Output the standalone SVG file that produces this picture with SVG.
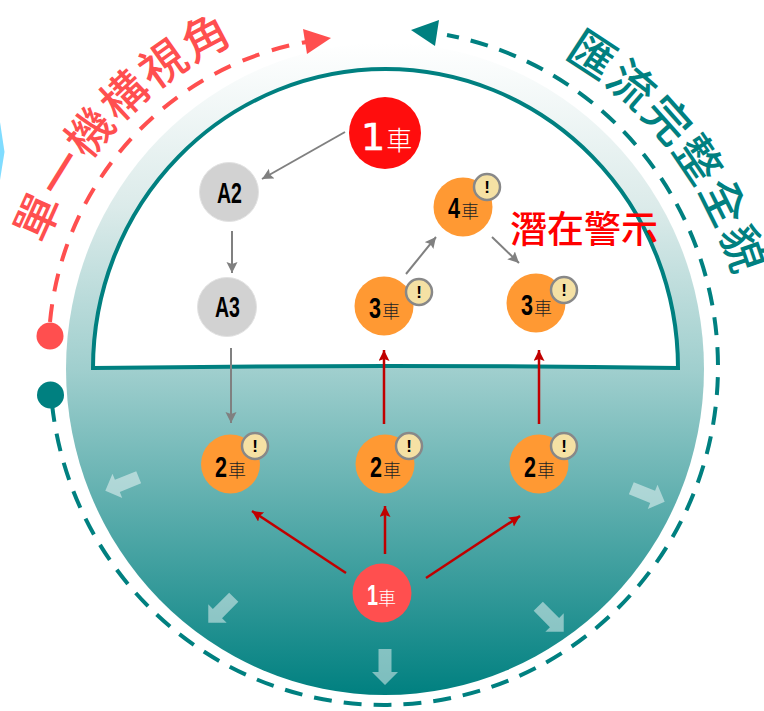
<svg xmlns="http://www.w3.org/2000/svg" width="764" height="711" viewBox="0 0 764 711">
<style>
text{font-family:"Liberation Sans",sans-serif}
.cjk{font-family:"Noto Sans CJK TC","Noto Sans CJK SC",sans-serif}
.title{font-family:"Noto Sans CJK TC",sans-serif;font-size:46px;font-weight:500;letter-spacing:1.800px}
.o{fill:#ff9933}
.g{fill:#d2d2d2;stroke:#e2e2e2;stroke-width:1}
.d{font-size:30px;font-weight:700;fill:#000}
.c{font-family:"Noto Sans CJK TC",sans-serif;font-size:18px;font-weight:300;fill:#222}
.b{fill:#f5e1a4;stroke:#888;stroke-width:2.500}
.x{font-size:17px;font-weight:700;fill:#000;text-anchor:middle}
.gl{stroke:#808080;stroke-width:2;fill:none;marker-end:url(#ga)}
.rl{stroke:#c00000;stroke-width:2.500;fill:none;marker-end:url(#ra)}
.la{fill:#fff;fill-opacity:.48}
</style>
<defs>
<linearGradient id="gr" x1="0" y1="0" x2="0" y2="1">
<stop offset="0" stop-color="#fff"/><stop offset=".25" stop-color="#dcebea"/><stop offset=".5" stop-color="#a0cfce"/><stop offset="1" stop-color="#008080"/>
</linearGradient>
<marker id="ga" markerUnits="userSpaceOnUse" markerWidth="13" markerHeight="13" refX="11" refY="5.500" orient="auto"><path d="M0 0L11 5.500L0 11L2 5.500Z" fill="#808080"/></marker>
<marker id="ra" markerUnits="userSpaceOnUse" markerWidth="13" markerHeight="13" refX="11" refY="5.500" orient="auto"><path d="M0 0L11 5.500L0 11L2 5.500Z" fill="#c00000"/></marker>
<polygon id="blk" points="-6.500,-18 6.500,-18 6.500,5 13,5 0,18 -13,5 -6.500,5"/>
<path id="tl" d="M44 245A362 362 0 0 1 385 10"/>
<path id="tr" d="M563 57A362 362 0 0 1 747 372"/>
</defs>

<g id="edge-hex"><polygon points="0,122 4.500,152 0,180" fill="#80dcff"/></g>

<g id="dome">
<ellipse cx="385" cy="369" rx="319" ry="326" fill="url(#gr)"/>
<path d="M93 368A292.500 299 0 0 1 678 368Q385 364 93 368Z" fill="#fff" stroke="#008080" stroke-width="4"/>
</g>

<g id="light-arrows" class="la">
<use href="#blk" transform="translate(122,484) rotate(68)"/>
<use href="#blk" transform="translate(648,495) rotate(-68)"/>
<use href="#blk" transform="translate(221,610) rotate(45)"/>
<use href="#blk" transform="translate(551,619) rotate(-45)"/>
<use href="#blk" transform="translate(385,667)"/>
</g>

<g id="perimeter">
<path d="M50 322A314 314 0 0 1 306 42" fill="none" stroke="#ff4f4f" stroke-width="4" stroke-dasharray="18 13"/>
<polygon points="331,38 303,29 307,54" fill="#ff4f4f"/>
<circle cx="50" cy="336" r="13.500" fill="#ff4f4f"/>
<path d="M52 404A334 338 0 1 0 447 35" fill="none" stroke="#008080" stroke-width="4" stroke-dasharray="18 12"/>
<polygon points="411,30 439,20 435,46" fill="#008080"/>
<circle cx="50.500" cy="395" r="13.500" fill="#008080"/>
</g>

<g id="titles">
<text class="title" fill="#ff4f4f"><textPath href="#tl">單一機構視角</textPath></text>
<text class="title" fill="#008080"><textPath href="#tr">匯流完整全貌</textPath></text>
</g>

<g id="connectors">
<path class="gl" d="M345 132L262 179"/>
<path class="gl" d="M232 231V273"/>
<path class="gl" d="M231 348V423"/>
<path class="gl" d="M406 274L436 237"/>
<path class="gl" d="M492 237L519 263"/>
<path class="rl" d="M384 424V350"/>
<path class="rl" d="M539 424V350"/>
<path class="rl" d="M346 573L252 511"/>
<path class="rl" d="M385 554V506"/>
<path class="rl" d="M426 578L520 516"/>
</g>

<g id="n1-top"><circle cx="385" cy="133" r="36" fill="#ff0d0d"/><text x="361" y="150" style="font-family:'DejaVu Sans',sans-serif;font-size:38px;fill:#fff;stroke:#fff;stroke-width:.6">1<tspan class="c" style="font-size:26px;fill:#fff;stroke:none" dx="1">車</tspan></text></g>
<g id="a2"><circle class="g" cx="229" cy="192" r="29.500"/><text class="d" x="217" y="203" textLength="25" lengthAdjust="spacingAndGlyphs">A2</text></g>
<g id="a3"><circle class="g" cx="227" cy="307" r="29.500"/><text class="d" x="215" y="317" textLength="25" lengthAdjust="spacingAndGlyphs">A3</text></g>
<g id="n3-left"><circle class="o" cx="384" cy="306" r="29.500"/><text class="d" x="369" y="318"><tspan textLength="12" lengthAdjust="spacingAndGlyphs">3</tspan><tspan class="c" dx="1">車</tspan></text><circle class="b" cx="419" cy="292" r="13"/><text class="x" x="419" y="298">!</text></g>
<g id="n4"><circle class="o" cx="463" cy="207" r="29.500"/><text class="d" x="448" y="218"><tspan textLength="12" lengthAdjust="spacingAndGlyphs">4</tspan><tspan class="c" dx="1">車</tspan></text><circle class="b" cx="487" cy="187" r="13"/><text class="x" x="487" y="193">!</text></g>
<g id="n3-right"><circle class="o" cx="536" cy="303" r="29.500"/><text class="d" x="521" y="315"><tspan textLength="12" lengthAdjust="spacingAndGlyphs">3</tspan><tspan class="c" dx="1">車</tspan></text><circle class="b" cx="564" cy="290" r="13"/><text class="x" x="564" y="296">!</text></g>
<g id="n2-left"><circle class="o" cx="230.500" cy="464" r="29.500"/><text class="d" x="215" y="477"><tspan textLength="12" lengthAdjust="spacingAndGlyphs">2</tspan><tspan class="c" dx="1">車</tspan></text><circle class="b" cx="255" cy="446" r="13"/><text class="x" x="255" y="452">!</text></g>
<g id="n2-mid"><circle class="o" cx="385" cy="464" r="29.500"/><text class="d" x="370" y="477"><tspan textLength="12" lengthAdjust="spacingAndGlyphs">2</tspan><tspan class="c" dx="1">車</tspan></text><circle class="b" cx="409" cy="446" r="13"/><text class="x" x="409" y="452">!</text></g>
<g id="n2-right"><circle class="o" cx="539" cy="464" r="29.500"/><text class="d" x="524" y="477"><tspan textLength="12" lengthAdjust="spacingAndGlyphs">2</tspan><tspan class="c" dx="1">車</tspan></text><circle class="b" cx="564" cy="446" r="13"/><text class="x" x="564" y="452">!</text></g>
<g id="n1-bottom"><circle cx="382" cy="593" r="29.500" fill="#ff4f4f"/><text class="d" x="367" y="605" style="fill:#fff"><tspan textLength="11" lengthAdjust="spacingAndGlyphs">1</tspan><tspan class="c" style="fill:#fff">車</tspan></text></g>

<text class="cjk" x="510" y="243" font-size="37" font-weight="500" fill="#ff0000">潛在警示</text>
</svg>
